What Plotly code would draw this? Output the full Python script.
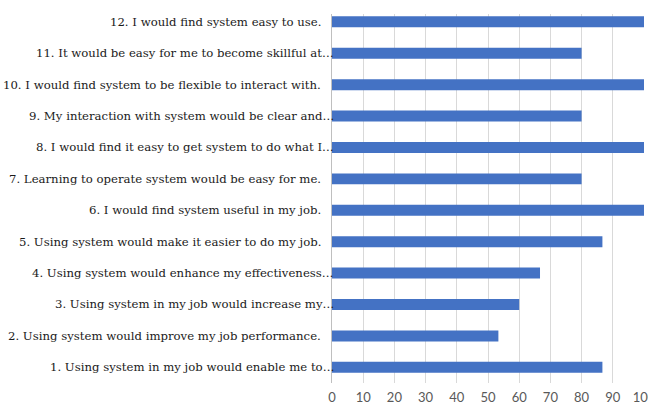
import plotly.graph_objects as go

# Survey statements (bottom to top) and the share of respondents agreeing (%)
statements = [
    "1. Using system in my job would enable me to",
    "2. Using system would improve my job performance.",
    "3. Using system in my job would increase my",
    "4. Using system would enhance my effectiveness",
    "5. Using system would make it easier to do my job.",
    "6. I would find system useful in my job.",
    "7. Learning to operate system would be easy for me.",
    "8. I would find it easy to get system to do what I",
    "9. My interaction with system would be clear and",
    "10. I would find system to be flexible to interact with.",
    "11. It would be easy for me to become skillful at",
    "12. I would find system easy to use.",
]
truncated = [True, False, True, True, False, False, False, True, True, False, True, False]
agree_pct = [86.67, 53.33, 60, 66.67, 86.67, 100, 80, 100, 80, 100, 80, 100]
x_ticks = [0, 10, 20, 30, 40, 50, 60, 70, 80, 90, 100]

BAR = "#4472C4"
LABEL_COLOR = "#1a1a1a"
TICK_COLOR = "#595959"
LABEL_FONT = "DejaVu Serif"
TICK_FONT = "Lato"

fig = go.Figure(
    go.Bar(
        x=agree_pct,
        y=list(range(len(statements))),
        orientation="h",
        marker=dict(color=BAR, line=dict(width=0)),
        width=0.35,
    )
)

# Category labels drawn as annotations so that shortened ones can carry an ellipsis
for i, (label, cut) in enumerate(zip(statements, truncated)):
    fig.add_annotation(
        x=0, xref="paper", y=i, yref="y",
        text=label + ("…" if cut else ""),
        showarrow=False, xanchor="right",
        xshift=4 if cut else -9,
        font=dict(family=LABEL_FONT, size=11.7, color=LABEL_COLOR),
    )

fig.update_layout(
    width=648, height=406,
    margin=dict(l=332, r=4, t=14, b=23),
    paper_bgcolor="white", plot_bgcolor="white",
    showlegend=False,
    font=dict(family=LABEL_FONT, size=11.7, color=LABEL_COLOR),
    xaxis=dict(
        range=[0, 100], tickvals=x_ticks, showgrid=True, gridcolor="#d9d9d9",
        gridwidth=1, zeroline=False, showline=False, ticks="",
        tickfont=dict(family=TICK_FONT, size=13, color=TICK_COLOR), ticklabelstandoff=5,
        ticklabeloverflow="allow", automargin=False,
    ),
    yaxis=dict(
        range=[-0.5, 11.25], showticklabels=False, showgrid=False,
        zeroline=False, showline=True, linecolor="#bfbfbf", linewidth=1, ticks="",
    ),
)

fig.write_html("out.html")
